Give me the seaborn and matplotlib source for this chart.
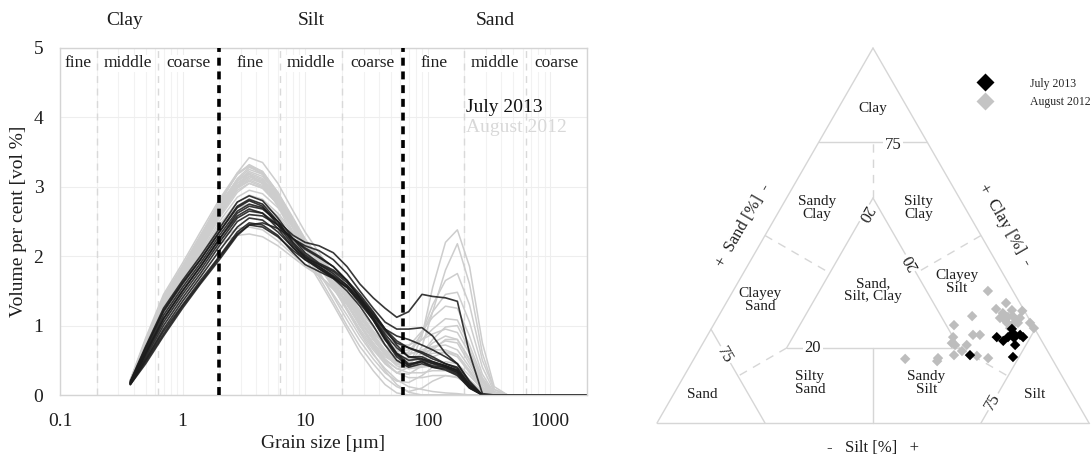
import numpy as np
import pandas as pd
import matplotlib
matplotlib.use("Agg")
import matplotlib.pyplot as plt
import seaborn as sns
from matplotlib.lines import Line2D
from matplotlib.ticker import LogLocator, NullFormatter, MultipleLocator

# ---------------- data: grain-size distributions ----------------
SIZE_UM = [0.375, 0.5, 0.7, 1.0, 1.4, 2.0, 2.8, 3.5, 4.5, 6.0, 8.0, 10, 13, 17, 22,
           28, 36, 45, 56, 70, 90, 110, 140, 175, 220, 280, 350, 450, 2000]

JULY_2013 = [
    [0.20,0.70,1.25,1.65,2.00,2.40,2.78,2.87,2.80,2.55,2.25,2.05,1.90,1.80,1.65,1.45,1.20,0.95,0.72,0.55,0.52,0.48,0.42,0.35,0.15,0.00,0,0,0],
    [0.18,0.65,1.20,1.60,1.95,2.35,2.70,2.80,2.72,2.45,2.15,2.00,1.85,1.70,1.55,1.35,1.10,0.85,0.60,0.45,0.48,0.42,0.40,0.33,0.12,0.00,0,0,0],
    [0.17,0.60,1.10,1.50,1.85,2.25,2.62,2.72,2.68,2.50,2.30,2.20,2.15,2.05,1.85,1.60,1.40,1.25,1.12,1.20,1.45,1.42,1.40,1.35,0.60,0.02,0,0,0],
    [0.17,0.58,1.05,1.45,1.80,2.20,2.55,2.65,2.62,2.45,2.25,2.15,2.08,1.95,1.75,1.50,1.25,1.05,0.95,0.95,0.97,0.85,0.60,0.45,0.20,0.00,0,0,0],
    [0.16,0.55,1.00,1.40,1.75,2.15,2.50,2.60,2.58,2.45,2.25,2.10,1.98,1.85,1.65,1.40,1.15,0.95,0.85,0.80,0.72,0.65,0.55,0.45,0.18,0.00,0,0,0],
    [0.15,0.45,0.85,1.25,1.60,1.95,2.30,2.45,2.48,2.40,2.25,2.12,2.00,1.85,1.65,1.40,1.15,0.92,0.75,0.68,0.62,0.55,0.45,0.40,0.15,0.00,0,0,0],
    [0.16,0.50,0.92,1.30,1.65,2.00,2.35,2.48,2.45,2.30,2.05,1.88,1.78,1.68,1.55,1.35,1.08,0.80,0.55,0.42,0.48,0.40,0.38,0.30,0.10,0.00,0,0,0],
    [0.18,0.62,1.15,1.55,1.90,2.30,2.65,2.75,2.70,2.50,2.20,2.02,1.88,1.75,1.58,1.38,1.10,0.82,0.58,0.43,0.50,0.45,0.40,0.32,0.12,0.00,0,0,0],
    [0.17,0.60,1.10,1.50,1.85,2.25,2.58,2.68,2.62,2.40,2.12,1.95,1.82,1.70,1.55,1.32,1.08,0.80,0.60,0.50,0.52,0.46,0.42,0.36,0.14,0.00,0,0,0],
    [0.16,0.52,0.95,1.35,1.70,2.08,2.42,2.55,2.52,2.35,2.12,1.98,1.88,1.78,1.62,1.42,1.18,0.95,0.78,0.68,0.60,0.52,0.45,0.38,0.14,0.00,0,0,0],
    [0.19,0.68,1.22,1.62,1.95,2.35,2.72,2.82,2.75,2.50,2.18,1.98,1.82,1.68,1.50,1.28,1.00,0.72,0.50,0.40,0.45,0.40,0.36,0.28,0.10,0.00,0,0,0],
    [0.15,0.48,0.88,1.28,1.62,1.98,2.32,2.45,2.42,2.28,2.08,1.95,1.85,1.72,1.58,1.38,1.12,0.88,0.68,0.55,0.55,0.48,0.42,0.35,0.12,0.00,0,0,0],
]

AUGUST_2012 = [
    [0.20,0.75,1.35,1.80,2.25,2.75,3.20,3.42,3.35,3.05,2.65,2.35,2.05,1.75,1.45,1.15,0.85,0.62,0.45,0.38,0.40,0.42,0.40,0.32,0.15,0.02,0,0,0],
    [0.21,0.78,1.38,1.82,2.28,2.78,3.18,3.30,3.22,2.92,2.55,2.25,1.95,1.62,1.30,1.00,0.72,0.50,0.38,0.42,0.70,1.20,1.80,2.18,1.60,0.60,0.08,0,0],
    [0.20,0.74,1.32,1.76,2.22,2.70,3.10,3.25,3.18,2.90,2.50,2.20,1.90,1.58,1.25,0.95,0.68,0.45,0.32,0.40,0.85,1.55,2.20,2.38,1.85,0.75,0.12,0,0],
    [0.19,0.70,1.28,1.72,2.18,2.65,3.05,3.18,3.10,2.85,2.48,2.20,1.92,1.62,1.32,1.02,0.75,0.55,0.45,0.55,0.90,1.30,1.65,1.75,1.30,0.50,0.08,0,0],
    [0.20,0.72,1.30,1.75,2.20,2.68,3.08,3.20,3.12,2.85,2.50,2.22,1.95,1.68,1.40,1.12,0.85,0.65,0.55,0.62,0.88,1.20,1.45,1.48,1.05,0.40,0.05,0,0],
    [0.19,0.70,1.26,1.70,2.15,2.62,3.00,3.12,3.05,2.80,2.48,2.22,1.98,1.72,1.45,1.18,0.92,0.72,0.62,0.70,0.92,1.12,1.28,1.25,0.85,0.30,0.03,0,0],
    [0.18,0.66,1.22,1.66,2.10,2.58,2.98,3.10,3.02,2.78,2.45,2.20,1.95,1.70,1.45,1.18,0.92,0.72,0.62,0.65,0.80,0.95,1.10,1.08,0.72,0.25,0.02,0,0],
    [0.18,0.65,1.20,1.65,2.08,2.55,2.92,3.05,2.98,2.75,2.45,2.22,2.00,1.75,1.48,1.22,0.98,0.80,0.72,0.72,0.80,0.88,0.95,0.90,0.60,0.20,0.02,0,0],
    [0.19,0.68,1.24,1.68,2.12,2.60,3.00,3.15,3.08,2.82,2.48,2.22,1.96,1.68,1.38,1.08,0.80,0.58,0.45,0.45,0.60,0.75,0.85,0.80,0.50,0.15,0.01,0,0],
    [0.20,0.75,1.36,1.80,2.25,2.72,3.12,3.28,3.20,2.92,2.52,2.20,1.88,1.55,1.22,0.92,0.65,0.45,0.32,0.30,0.42,0.55,0.62,0.58,0.35,0.10,0,0,0],
    [0.21,0.80,1.42,1.86,2.30,2.78,3.18,3.32,3.22,2.90,2.48,2.12,1.78,1.42,1.08,0.78,0.52,0.32,0.20,0.18,0.28,0.40,0.48,0.45,0.28,0.08,0,0,0],
    [0.22,0.82,1.45,1.90,2.35,2.82,3.20,3.30,3.18,2.85,2.40,2.05,1.70,1.35,1.00,0.70,0.45,0.25,0.12,0.05,0.10,0.20,0.28,0.26,0.15,0.03,0,0,0],
    [0.21,0.78,1.40,1.85,2.30,2.75,3.10,3.18,3.05,2.72,2.30,1.98,1.65,1.30,0.95,0.62,0.35,0.15,0.03,0,0,0,0,0,0,0,0,0,0],
    [0.20,0.72,1.30,1.74,2.18,2.62,2.98,3.08,3.00,2.75,2.40,2.12,1.85,1.55,1.22,0.90,0.60,0.35,0.15,0.04,0,0,0,0,0,0,0,0,0],
    [0.19,0.70,1.26,1.70,2.12,2.58,2.95,3.05,2.98,2.75,2.42,2.18,1.92,1.62,1.32,1.02,0.75,0.52,0.38,0.32,0.32,0.35,0.35,0.30,0.18,0.05,0,0,0],
    [0.18,0.66,1.20,1.62,2.05,2.50,2.85,2.95,2.90,2.70,2.42,2.20,1.98,1.72,1.45,1.18,0.92,0.72,0.58,0.52,0.55,0.60,0.62,0.55,0.32,0.08,0,0,0],
    [0.17,0.62,1.15,1.58,2.00,2.45,2.78,2.88,2.82,2.62,2.35,2.15,1.95,1.72,1.48,1.22,0.98,0.78,0.65,0.60,0.62,0.65,0.65,0.58,0.35,0.10,0,0,0],
    [0.17,0.60,1.12,1.55,1.96,2.40,2.72,2.80,2.75,2.58,2.32,2.12,1.92,1.68,1.42,1.15,0.88,0.65,0.48,0.40,0.42,0.45,0.45,0.40,0.22,0.05,0,0,0],
    [0.16,0.55,1.05,1.48,1.88,2.18,2.30,2.32,2.28,2.15,1.98,1.85,1.72,1.55,1.35,1.12,0.90,0.72,0.60,0.58,0.65,0.70,0.72,0.65,0.40,0.12,0,0,0],
    [0.16,0.58,1.08,1.50,1.90,2.25,2.40,2.42,2.38,2.22,2.02,1.88,1.72,1.52,1.30,1.05,0.80,0.60,0.48,0.48,0.60,0.80,0.98,1.00,0.65,0.22,0.02,0,0],
    [0.18,0.64,1.18,1.60,2.02,2.45,2.70,2.75,2.68,2.48,2.22,2.02,1.82,1.60,1.35,1.08,0.82,0.62,0.50,0.48,0.55,0.68,0.78,0.75,0.45,0.15,0.01,0,0],
    [0.19,0.68,1.25,1.70,2.15,2.62,3.02,3.15,3.08,2.82,2.48,2.22,1.95,1.65,1.32,1.00,0.70,0.48,0.32,0.25,0.25,0.28,0.28,0.25,0.15,0.04,0,0,0],
    [0.20,0.73,1.32,1.78,2.22,2.70,3.08,3.22,3.15,2.88,2.52,2.25,1.98,1.68,1.38,1.08,0.80,0.58,0.42,0.38,0.48,0.65,0.80,0.80,0.52,0.18,0.02,0,0],
    [0.20,0.74,1.34,1.78,2.22,2.68,3.05,3.15,3.05,2.75,2.35,2.05,1.75,1.45,1.15,0.85,0.58,0.38,0.22,0.12,0.08,0.05,0.03,0.02,0,0,0,0,0],
]

CLASS_BOUNDS = [0.2, 0.63, 6.3, 20, 200, 630]   # sub-class limits (um)
MAIN_BOUNDS = [2, 63]                          # clay/silt, silt/sand
MAIN_NAMES = ["Clay", "Silt", "Sand"]
SUB_NAMES = ["fine", "middle", "coarse"] * 3
X_TICKS = [0.1, 1, 10, 100, 1000]
X_TICK_LABELS = ["0.1", "1", "10", "100", "1000"]

# ---------------- data: ternary (Shepard) ----------------
# percentages: sand, silt, clay
AUG_SAND = [5.8, 3.2, 6.3, 0.5, 12.8, 5.3, 4.6, 3.4, 6.6, 3.7, 5.6, 3.1, 0.3, 0.1, 5.6, 18.2,
            15.1, 13.5, 20.0, 21.1, 20.6, 17.9, 19.8, 22.2, 17.0, 14.7, 34.0, 26.3, 26.9, 2.8, 2.0, 5.7]
AUG_SILT = [59.0, 64.8, 63.3, 69.6, 58.7, 65.4, 67.1, 68.1, 65.4, 69.4, 67.7, 70.2, 73.0, 74.6, 69.1, 55.7,
            61.4, 63.0, 57.1, 57.6, 58.6, 61.3, 61.0, 59.7, 65.1, 68.0, 48.9, 56.4, 56.6, 67.1, 70.0, 66.8]
AUG_CLAY = [35.2, 32.0, 30.4, 29.9, 28.5, 29.3, 28.3, 28.5, 28.0, 26.9, 26.7, 26.7, 26.7, 25.3, 25.3, 26.1,
            23.5, 23.5, 22.9, 21.3, 20.8, 20.8, 19.2, 18.1, 17.9, 17.3, 17.1, 17.3, 16.5, 30.1, 28.0, 27.5]
JUL_SAND = [5.3, 5.6, 4.2, 3.8, 9.9, 6.0, 8.9, 6.7, 18.5, 8.8, 7.3]
JUL_SILT = [69.6, 70.4, 72.3, 73.3, 67.2, 71.3, 69.2, 72.5, 63.4, 73.6, 69.8]
JUL_CLAY = [25.1, 24.0, 23.5, 22.9, 22.9, 22.7, 21.9, 20.8, 18.1, 17.6, 22.9]

REGION_LABELS = ["Clay", "Sandy\nClay", "Silty\nClay", "Clayey\nSand", "Sand,\nSilt, Clay",
                 "Clayey\nSilt", "Sand", "Silty\nSand", "Sandy\nSilt", "Silt"]

# ---------------- style ----------------
sns.set_theme(style="white")
plt.rcParams["font.family"] = ["Liberation Serif", "DejaVu Serif"]

BLACK = "#1c1c1c"
GREY = "#cdcdcd"
FRAME = "#d4d4d4"
TXT = "#1e1e1e"

fig = plt.figure(figsize=(10.92, 4.59), dpi=100)
W, H = 1092, 459

# ================= left: grain-size curves =================
ax = fig.add_axes([60 / W, 1 - 395 / H, (587 - 60) / W, (395 - 48) / H])

rows = []
for i, vals in enumerate(AUGUST_2012):
    for s, v in zip(SIZE_UM, vals):
        rows.append(("August 2012", f"a{i}", s, v))
for i, vals in enumerate(JULY_2013):
    for s, v in zip(SIZE_UM, vals):
        rows.append(("July 2013", f"j{i}", s, v))
df = pd.DataFrame(rows, columns=["campaign", "sample", "size", "vol"])

ax.set_xscale("log")
sns.lineplot(data=df[df.campaign == "August 2012"], x="size", y="vol", units="sample",
             estimator=None, color=GREY, linewidth=1.1, ax=ax, legend=False, sort=False)
sns.lineplot(data=df[df.campaign == "July 2013"], x="size", y="vol", units="sample",
             estimator=None, color=BLACK, linewidth=1.2, alpha=0.88, ax=ax, legend=False, sort=False)

ax.set_xlim(0.1, 2000)
ax.set_ylim(0, 5)

# grid and class lines
ax.xaxis.set_minor_locator(LogLocator(base=10, subs=np.arange(2, 10)))
ax.xaxis.set_minor_formatter(NullFormatter())
ax.yaxis.set_minor_locator(MultipleLocator(0.5))
ax.grid(which="major", axis="both", color="#eeeeee", linewidth=0.8)
ax.grid(which="minor", axis="x", color="#f2f2f2", linewidth=0.8)
ax.set_axisbelow(True)
for b in CLASS_BOUNDS:
    ax.axvline(b, color="#d9d9d9", linewidth=1.0, linestyle=(0, (5, 4)), zorder=1)
for b in MAIN_BOUNDS:
    ax.axvline(b, color="black", linewidth=2.6, linestyle=(0, (2.2, 1.6)), zorder=5)

ax.set_xticks(X_TICKS)
ax.set_xticklabels(X_TICK_LABELS)
ax.set_yticks(range(0, 6))
ax.tick_params(axis="both", which="major", labelsize=14, colors=FRAME, labelcolor=TXT,
               length=3, width=0.8)
ax.tick_params(axis="y", which="major", pad=9)
ax.tick_params(axis="y", which="minor", length=3, color=FRAME, width=0.8)
ax.tick_params(axis="x", which="minor", length=0)
ax.tick_params(axis="x", which="major", length=0, pad=13)
for sp in ax.spines.values():
    sp.set_color(FRAME)
    sp.set_linewidth(1.0)

ax.set_xlabel("Grain size [\u00b5m]", fontsize=14, color=TXT, va="center")
ax.set_ylabel("Volume per cent [vol %]", fontsize=14, color=TXT, va="center")
ax.xaxis.set_label_coords(0.5, -(444 - 395) / 347, transform=ax.transAxes)
ax.yaxis.set_label_coords(-(60 - 19) / 527, 0.5, transform=ax.transAxes)

# class names
trans = ax.get_xaxis_transform()
main_pos = [0.34, 11.2, 355]
for name, xp in zip(MAIN_NAMES, main_pos):
    ax.text(xp, 1.078, name, transform=trans, ha="center", va="center", fontsize=14, color=TXT)
sub_edges = [0.1, 0.2, 0.63, 2, 6.3, 20, 63, 200, 630, 2000]
for k, name in enumerate(SUB_NAMES):
    xc = np.sqrt(sub_edges[k] * sub_edges[k + 1])
    ax.text(xc, 4.78, name, ha="center", va="center", fontsize=12.5, color=TXT,
            bbox=dict(facecolor="white", edgecolor="none", pad=0.5), zorder=6)

ax.text(205, 4.14, "July 2013", ha="left", va="center", fontsize=14, color="#111111")
ax.text(205, 3.85, "August 2012", ha="left", va="center", fontsize=14, color="#d8d8d8")

# ================= right: ternary diagram =================
ax2 = fig.add_axes([620 / W, 0, 472 / W, 439 / H])
ax2.set_xlim(-37 / 432, 435 / 432)
ax2.set_ylim(-36 / 433, 403 / 433)
ax2.axis("off")

R3 = np.sqrt(3) / 2


def tern(sand, silt, clay):
    return silt + clay / 2.0, clay * R3


LINE = "#d6d6d6"


def seg(p, q, dashed=False):
    (x0, y0), (x1, y1) = tern(*p), tern(*q)
    ax2.plot([x0, x1], [y0, y1], color=LINE, linewidth=1.0,
             linestyle=(0, (6, 5)) if dashed else "-", zorder=1)


seg((1, 0, 0), (0, 1, 0)); seg((0, 1, 0), (0, 0, 1)); seg((0, 0, 1), (1, 0, 0))
seg((.25, 0, .75), (0, .25, .75))
seg((.75, 0, .25), (.75, .25, 0))
seg((0, .75, .25), (.25, .75, 0))
seg((.6, .2, .2), (.2, .6, .2)); seg((.2, .6, .2), (.2, .2, .6)); seg((.2, .2, .6), (.6, .2, .2))
seg((.5, .5, 0), (.4, .4, .2))
seg((.2, .2, .6), (.125, .125, .75), dashed=True)
seg((.6, .2, .2), (.75, .125, .125), dashed=True)
seg((.2, .6, .2), (.125, .75, .125), dashed=True)
seg((.5, 0, .5), (.4, .2, .4), dashed=True)
seg((0, .5, .5), (.2, .4, .4), dashed=True)

wb = dict(facecolor="white", edgecolor="none", pad=1.0)
NUM = 12
ax2.text(0.546, 0.642, "75", fontsize=NUM, ha="center", va="center", bbox=wb, zorder=3, color=TXT)
ax2.text(0.157, 0.157, "75", fontsize=NUM, ha="center", va="center", rotation=-60, bbox=wb, zorder=3, color=TXT)
ax2.text(0.778, 0.049, "75", fontsize=NUM, ha="center", va="center", rotation=60, bbox=wb, zorder=3, color=TXT)
ax2.text(0.361, 0.173, "20", fontsize=NUM, ha="center", va="center", bbox=wb, zorder=3, color=TXT)
ax2.text(0.481, 0.485, "20", fontsize=NUM, ha="center", va="center", rotation=-120, bbox=wb, zorder=3, color=TXT)
ax2.text(0.590, 0.372, "20", fontsize=NUM, ha="center", va="center", rotation=120, bbox=wb, zorder=3, color=TXT)

region_pos = [(0.5, 0.727), (0.370, 0.497), (0.606, 0.497), (0.238, 0.284), (0.5, 0.307),
              (0.694, 0.326), (0.104, 0.065), (0.354, 0.092), (0.623, 0.092), (0.875, 0.065)]
for lab, (x, y) in zip(REGION_LABELS, region_pos):
    ax2.text(x, y, lab, fontsize=11, ha="center", va="center", linespacing=1.0, color=TXT)

ax2.text(0.199, 0.457, "+  Sand [%]  -", fontsize=12, rotation=60, ha="center", va="center", color=TXT)
ax2.text(0.806, 0.457, "+  Clay [%]  -", fontsize=12, rotation=-60, ha="center", va="center", color=TXT)
ax2.text(0.5, -0.058, "-   Silt [%]   +", fontsize=12, ha="center", va="center", color=TXT)

tern_rows = []
for s, si, c in zip(AUG_SAND, AUG_SILT, AUG_CLAY):
    tern_rows.append(("August 2012", s, si, c))
for s, si, c in zip(JUL_SAND, JUL_SILT, JUL_CLAY):
    tern_rows.append(("July 2013", s, si, c))
tdf = pd.DataFrame(tern_rows, columns=["campaign", "sand", "silt", "clay"])
tot = tdf.sand + tdf.silt + tdf.clay
tdf["tx"] = (tdf.silt + tdf.clay / 2) / tot
tdf["ty"] = tdf.clay / tot * R3

sns.scatterplot(data=tdf, x="tx", y="ty", hue="campaign", hue_order=["August 2012", "July 2013"],
                palette={"August 2012": "#bdbdbd", "July 2013": "#000000"}, marker="D", s=28,
                linewidth=0, legend=False, ax=ax2, zorder=4)
ax2.set_xlabel(""); ax2.set_ylabel("")

handles = [Line2D([], [], marker="D", color="none", markerfacecolor="#000000", markeredgecolor="none", markersize=9.5),
           Line2D([], [], marker="D", color="none", markerfacecolor="#c4c4c4", markeredgecolor="none", markersize=9.5)]
ax2.legend(handles, ["July 2013", "August 2012"], loc="center left", bbox_to_anchor=(0.749, 0.834),
           frameon=False, fontsize=8.5, handletextpad=2.8, labelspacing=0.55, handlelength=2,
           borderpad=0, borderaxespad=0)

fig.savefig("out.png", dpi=100)
